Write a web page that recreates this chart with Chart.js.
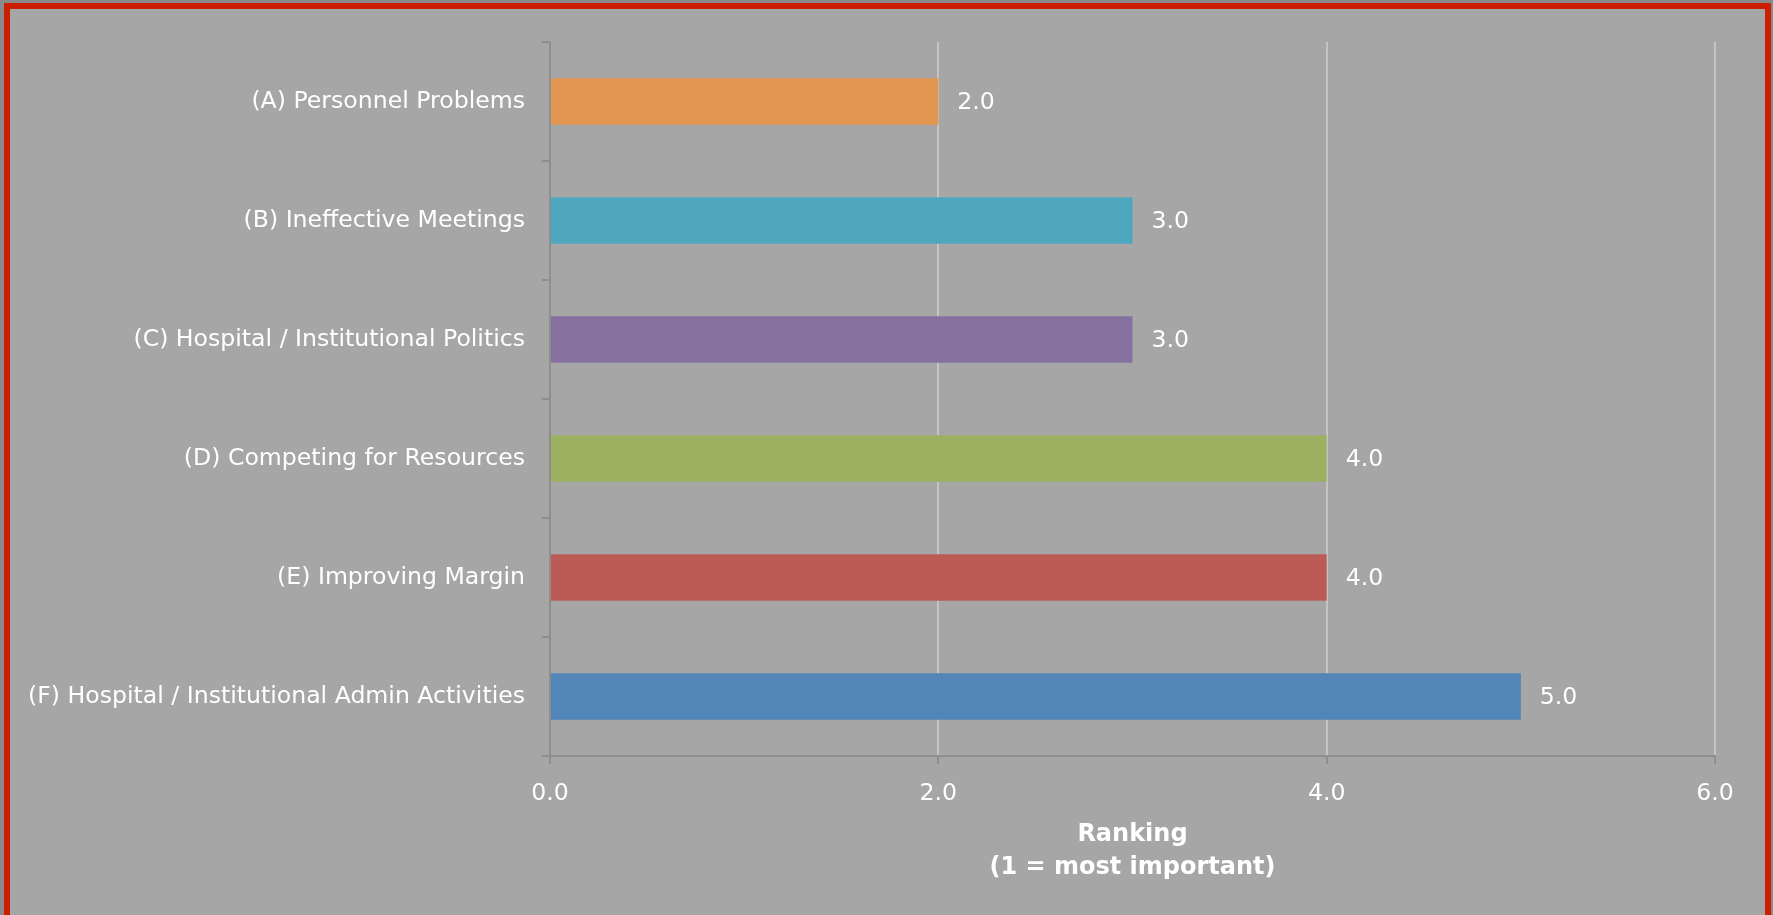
<!DOCTYPE html>
<html>
<head>
<meta charset="utf-8">
<script src="https://cdn.jsdelivr.net/npm/chart.js@4/dist/chart.umd.min.js"></script>
<style>
  html, body { margin: 0; padding: 0; background: #8a8a8a; overflow: hidden; }
  #frame {
    position: absolute; left: 4px; top: 3px; width: 1755px; height: 920px;
    border: 6px solid #cc1e00; background: #a6a6a6;
  }
  #wrap { position: absolute; left: 0; top: 0; width: 1773px; height: 915px; }
</style>
</head>
<body>
<div id="frame"></div>
<div id="wrap"><canvas id="chart" width="1773" height="915"></canvas></div>
<script>
// ranking chart - horizontal bars, one colour per category
const categories = [
  '(A) Personnel Problems',
  '(B) Ineffective Meetings',
  '(C) Hospital / Institutional Politics',
  '(D) Competing for Resources',
  '(E) Improving Margin',
  '(F) Hospital / Institutional Admin Activities'
];
const rankings = [2.0, 3.0, 3.0, 4.0, 4.0, 5.0];
const barColors = ['#e2964f', '#4fa7bf', '#8670a0', '#9bb161', '#bc5b56', '#5285b8'];
const xTicks = [0, 2, 4, 6];
const axisTitle = ['Ranking', '(1 = most important)'];

const FONT = '"DejaVu Sans", sans-serif';
const SIZE = 23.6;
const axisGray = '#8e8e8e';

// value labels right of each bar
const valueLabels = {
  id: 'valueLabels',
  afterDatasetsDraw(chart) {
    const { ctx } = chart;
    const meta = chart.getDatasetMeta(0);
    ctx.save();
    ctx.font = SIZE + 'px ' + FONT;
    ctx.fillStyle = '#ffffff';
    ctx.textAlign = 'left';
    ctx.textBaseline = 'middle';
    meta.data.forEach((bar, i) => {
      ctx.fillText(rankings[i].toFixed(1), bar.x + 19, bar.y + 1);
    });
    ctx.restore();
  }
};

new Chart(document.getElementById('chart'), {
  type: 'bar',
  data: {
    labels: categories,
    datasets: [{
      data: rankings,
      backgroundColor: barColors,
      borderWidth: 0,
      barPercentage: 0.39,
      categoryPercentage: 1.0
    }]
  },
  plugins: [valueLabels],
  options: {
    indexAxis: 'y',
    responsive: false,
    animation: false,
    layout: { padding: { top: 42, right: 58, left: 0, bottom: 0 } },
    plugins: { legend: { display: false }, tooltip: { enabled: false } },
    scales: {
      x: {
        min: 0, max: 6,
        afterBuildTicks: s => { s.ticks = xTicks.map(v => ({ value: v })); },
        afterFit: s => { s.height = 159; },
        border: { color: axisGray, width: 2 },
        grid: {
          color: c => (c.tick && c.tick.value === 0) ? 'rgba(0,0,0,0)' : '#c4c4c4',
          lineWidth: 2,
          tickColor: axisGray,
          tickLength: 8
        },
        ticks: {
          color: '#ffffff',
          font: { family: FONT, size: SIZE },
          padding: 16,
          callback: v => Number(v).toFixed(1)
        },
        title: {
          display: true,
          text: axisTitle,
          color: '#ffffff',
          font: { family: FONT, size: 24, weight: 'bold', lineHeight: 1.375 },
          padding: { top: 0, bottom: 31 }
        }
      },
      y: {
        afterFit: s => { s.width = 550; },
        border: { color: axisGray, width: 2 },
        grid: {
          drawOnChartArea: false,
          color: axisGray,
          lineWidth: 2,
          tickLength: 8
        },
        ticks: {
          color: '#ffffff',
          font: { family: FONT, size: SIZE },
          padding: 17
        }
      }
    }
  }
});
</script>
</body>
</html>
